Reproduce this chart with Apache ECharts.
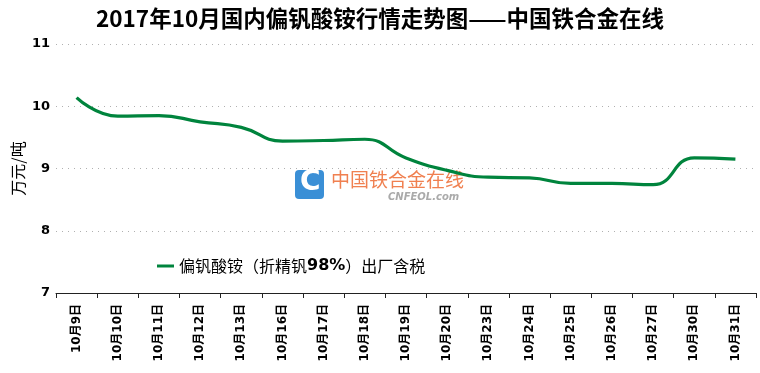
<!DOCTYPE html>
<html><head><meta charset="utf-8">
<script src="https://cdn.jsdelivr.net/npm/echarts@6/dist/echarts.min.js"></script>
<style>html,body{margin:0;padding:0;background:#fff}#c{width:760px;height:373px}</style>
</head><body><div id="c"></div>
<script>
const categories = ['10月9日','10月10日','10月11日','10月12日','10月13日','10月16日','10月17日','10月18日','10月19日','10月20日','10月23日','10月24日','10月25日','10月26日','10月27日','10月30日','10月31日'];
const prices = [10.14, 9.84, 9.85, 9.75, 9.66, 9.44, 9.45, 9.47, 9.17, 8.97, 8.86, 8.85, 8.76, 8.76, 8.74, 9.17, 9.15];
const seriesName = '偏钒酸铵（折精钒98%）出厂含税';
const titleText = '2017年10月国内偏钒酸铵行情走势图——中国铁合金在线';
const yTicks = {min: 7, max: 11, interval: 1};

const chart = echarts.init(document.getElementById('c'));
chart.setOption({
  animation: false,
  backgroundColor: '#fff',
  title: {
    text: titleText, left: 'center', top: 2,
    textStyle: {fontFamily: '"Noto Sans CJK SC", "Liberation Sans Narrow", sans-serif', fontSize: 22.5, fontWeight: 'bold', color: '#000'}
  },
  grid: {left: 56, right: 4, top: 44, bottom: 80, containLabel: false, outerBoundsMode: 'none'},
  legend: {
    left: 152, top: 253, itemWidth: 17, itemHeight: 3, icon: 'rect', itemGap: 10,
    data: [seriesName],
    formatter: () => '{a|偏钒酸铵（折精钒}{b|98%}{a|）出厂含税}',
    textStyle: {
      rich: {
        a: {fontFamily: '"Noto Sans CJK SC", sans-serif', fontSize: 16, color: '#000'},
        b: {fontFamily: '"DejaVu Sans", sans-serif', fontSize: 16, fontWeight: 'bold', color: '#000'}
      }
    }
  },
  xAxis: {
    type: 'category', data: categories, boundaryGap: true,
    axisLine: {show: true, lineStyle: {color: '#222', width: 1}},
    axisTick: {show: true, length: 5, lineStyle: {color: '#222'}},
    axisLabel: {rotate: 90, interval: 0, margin: 11, fontFamily: '"DejaVu Sans", "Noto Sans CJK SC", sans-serif', fontSize: 12, fontWeight: 'bold', color: '#000'}
  },
  yAxis: {
    type: 'value', min: yTicks.min, max: yTicks.max, interval: yTicks.interval,
    name: '万元/吨', nameLocation: 'middle', nameGap: 30, nameRotate: 90, nameMoveOverlap: false,
    nameTextStyle: {fontFamily: '"Noto Sans CJK SC", sans-serif', fontSize: 16, color: '#000'},
    axisLine: {show: false}, axisTick: {show: false},
    axisLabel: {margin: 6, fontFamily: '"DejaVu Sans", sans-serif', fontSize: 13, fontWeight: 'bold', color: '#000'},
    splitLine: {show: true, lineStyle: {color: '#b0b0b0', type: [1, 5], width: 1}}
  },
  graphic: [
    {type: 'rect', left: 295, top: 170, shape: {width: 29, height: 29, r: 4}, style: {fill: '#3a8fd6'}, z: 1},
    {type: 'text', left: 300, top: 169, style: {text: 'C', fill: '#fff', font: 'bold 28px "DejaVu Sans", sans-serif'}, z: 2},
    {type: 'text', left: 331, top: 170, style: {text: '中国铁合金在线', fill: '#f08050', font: '19px "Noto Sans CJK SC", sans-serif', letterSpacing: 1.5}, z: 2},
    {type: 'text', left: 388, top: 192, style: {text: 'CNFEOL.com', fill: '#aaaaaa', font: 'italic bold 10px "DejaVu Sans", sans-serif', letterSpacing: 0.5}, z: 2}
  ],
  series: [{
    name: seriesName, type: 'line', data: prices, smooth: 0.5,
    symbol: 'none', lineStyle: {color: '#00843d', width: 3.2}, itemStyle: {color: '#00843d'}, z: 3
  }]
});
</script></body></html>
